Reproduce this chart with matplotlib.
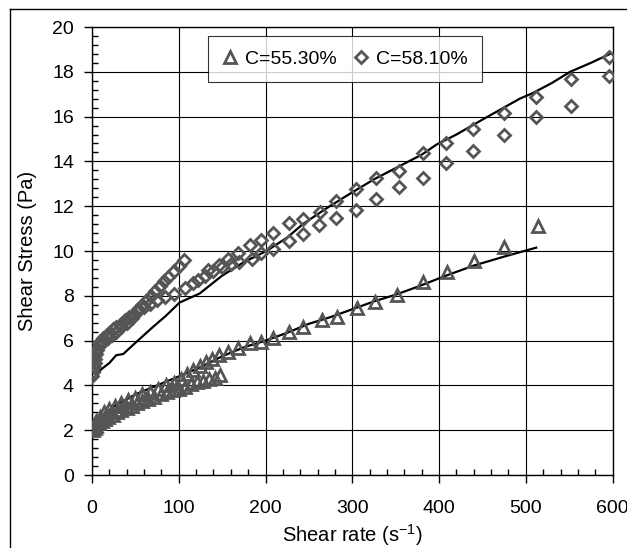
import matplotlib
matplotlib.use('Agg')
from matplotlib import pyplot as plt
from matplotlib.lines import Line2D
from matplotlib.ticker import MultipleLocator

plt.rcParams['font.family'] = ['Liberation Sans', 'DejaVu Sans']
plt.rcParams['mathtext.fontset'] = 'custom'
plt.rcParams['mathtext.rm'] = 'Liberation Sans'
plt.rcParams['mathtext.it'] = 'Liberation Sans'

# C=55.30% triangles (two branches of the loop)
tri_lo_x = [1, 3, 5, 8, 11, 15, 19, 24, 29, 34, 40, 46, 52, 58, 65, 72, 79, 86, 93, 100,
            107, 114, 121, 128, 135, 142, 148]
tri_lo_y = [2.0, 2.1, 2.2, 2.3, 2.4, 2.5, 2.6, 2.7, 2.8, 2.9, 3.0, 3.1, 3.2, 3.3, 3.4, 3.5,
            3.6, 3.7, 3.8, 3.85, 3.95, 4.05, 4.15, 4.2, 4.3, 4.35, 4.45]
tri_hi_x = [2, 5, 9, 14, 20, 27, 34, 42, 50, 58, 67, 76, 85, 94, 103, 110, 117, 124, 131, 138,
            146, 157, 168, 182, 195, 209, 227, 243, 265, 282, 305, 326, 351, 382, 409, 440, 475, 514]
tri_hi_y = [2.2, 2.4, 2.6, 2.8, 2.95, 3.1, 3.2, 3.35, 3.45, 3.6, 3.7, 3.85, 4.0, 4.1, 4.3, 4.5,
            4.7, 4.85, 5.05, 5.2, 5.35, 5.5, 5.66, 5.88, 5.95, 6.1, 6.4, 6.62, 6.92, 7.05, 7.44,
            7.74, 8.05, 8.6, 9.05, 9.55, 10.2, 11.1]

# C=58.10% diamonds
dia_a_x = [0.5, 1, 2, 3, 4, 5, 6, 8, 10, 13, 16, 20, 24, 28, 33, 38, 43, 48, 53, 58, 63, 68,
           73, 78, 83, 88, 94, 100, 106]
dia_a_y = [4.4, 4.6, 4.8, 5.0, 5.2, 5.4, 5.6, 5.9, 6.0, 6.1, 6.2, 6.35, 6.5, 6.6, 6.75, 6.9,
           7.05, 7.2, 7.4, 7.6, 7.8, 8.0, 8.2, 8.45, 8.65, 8.85, 9.1, 9.35, 9.6]
dia_b_x = [2, 5, 9, 13, 18, 23, 28, 34, 40, 46, 53, 60, 67, 75, 84, 95, 107, 117, 122, 134,
           146, 157, 168, 182, 195, 209, 227, 243, 263, 281, 304, 327, 354, 382, 408, 439, 475,
           512, 552, 596]
dia_b_y = [5.3, 5.6, 5.8, 5.95, 6.1, 6.25, 6.4, 6.6, 6.8, 7.0, 7.3, 7.5, 7.65, 7.8, 7.96, 8.1,
           8.33, 8.55, 8.7, 9.15, 9.36, 9.66, 9.92, 10.25, 10.49, 10.82, 11.26, 11.44, 11.74,
           12.25, 12.75, 13.26, 13.58, 14.39, 14.84, 15.46, 16.17, 16.86, 17.66, 18.66]
dia_c_x = [130, 140, 150, 160, 170, 184, 195, 209, 227, 243, 262, 281, 304, 327, 354, 382,
           408, 439, 475, 512, 552, 596]
dia_c_y = [8.9, 9.1, 9.3, 9.4, 9.5, 9.63, 9.9, 10.1, 10.43, 10.76, 11.15, 11.47, 11.83, 12.31,
           12.84, 13.26, 13.94, 14.48, 15.19, 16.0, 16.47, 17.8]

# fitted curves (black)
fit_tri_x = [0, 10, 25, 50, 75, 100, 122, 150, 175, 200, 225, 250, 275, 300, 325, 350, 375,
             408, 440, 475, 512]
fit_tri_y = [2.1, 2.6, 3.05, 3.6, 4.0, 4.4, 4.76, 5.3, 5.7, 6.0, 6.35, 6.75, 7.05, 7.4, 7.75,
             8.05, 8.4, 8.9, 9.35, 9.75, 10.15]
fit_dia_x = [3, 10, 20, 28, 36, 50, 70, 85, 101, 124, 150, 175, 201, 225, 243, 270, 297, 325,
             355, 380, 397, 420, 447, 470, 493, 508, 530, 551, 575, 597]
fit_dia_y = [4.3, 4.7, 5.0, 5.35, 5.4, 5.9, 6.6, 7.1, 7.7, 8.1, 8.9, 9.5, 10.0, 10.6, 11.2,
             11.9, 12.55, 13.2, 13.8, 14.3, 14.75, 15.2, 15.8, 16.3, 16.8, 17.05, 17.5, 18.0,
             18.4, 18.8]

legend_labels = ['C=55.30%', 'C=58.10%']

mcol = '#555555'
fs = 14
fig = plt.figure(figsize=(6.27, 5.48), dpi=100)
ax = fig.add_axes([0.1467, 0.1332, 0.8303, 0.8175])

ax.plot(fit_tri_x, fit_tri_y, color='black', lw=1.6, zorder=3)
ax.plot(fit_dia_x, fit_dia_y, color='black', lw=1.6, zorder=3)

tkw = dict(ls='none', mfc='none', mec=mcol, mew=2, zorder=4)
ax.plot(tri_lo_x, tri_lo_y, marker='^', ms=9, **tkw)
ax.plot(tri_hi_x, tri_hi_y, marker='^', ms=9, **tkw)
dkw = dict(ls='none', mfc='none', mec=mcol, mew=2, zorder=4)
ax.plot(dia_a_x, dia_a_y, marker='D', ms=6.5, **dkw)
ax.plot(dia_b_x, dia_b_y, marker='D', ms=6.5, **dkw)
ax.plot(dia_c_x, dia_c_y, marker='D', ms=6.5, **dkw)

ax.set_xlim(0, 600)
ax.set_ylim(0, 20)
ax.xaxis.set_major_locator(MultipleLocator(100))
ax.xaxis.set_minor_locator(MultipleLocator(20))
ax.yaxis.set_major_locator(MultipleLocator(2))
ax.yaxis.set_minor_locator(MultipleLocator(0.4))
ax.grid(True, which='major', color='black', lw=0.8)
ax.tick_params(which='major', direction='out', length=6, width=1, labelsize=fs)
ax.tick_params(axis='x', which='major', pad=12)
ax.tick_params(axis='y', which='major', pad=7)
ax.tick_params(which='minor', direction='in', length=4, width=1)
for s in ax.spines.values():
    s.set_linewidth(1)

ax.set_ylabel('Shear Stress (Pa)', fontsize=fs + 0.5)
ax.set_xlabel(r'Shear rate (s$^{-1}$)', fontsize=fs + 0.5)
ax.yaxis.set_label_coords(-0.105, 0.5)
ax.xaxis.set_label_coords(0.5, -0.106)

handles = [Line2D([], [], marker='^', ms=9, **tkw), Line2D([], [], marker='D', ms=6.5, **dkw)]
leg = ax.legend(handles, legend_labels, ncol=2, loc='upper left',
                bbox_to_anchor=(0.222, 0.981), borderaxespad=0, fontsize=fs, frameon=True,
                fancybox=False, handlelength=0.8, handletextpad=0.4, columnspacing=0.8,
                borderpad=0.75)
leg.get_frame().set_edgecolor('black')
leg.get_frame().set_linewidth(0.8)

# outer frame
fig.add_artist(Line2D([10 / 627, 10 / 627], [0, 1 - 9 / 548], color='black', lw=1))
fig.add_artist(Line2D([10 / 627, 1], [1 - 9 / 548, 1 - 9 / 548], color='black', lw=1))

fig.savefig('out.png', dpi=100)
